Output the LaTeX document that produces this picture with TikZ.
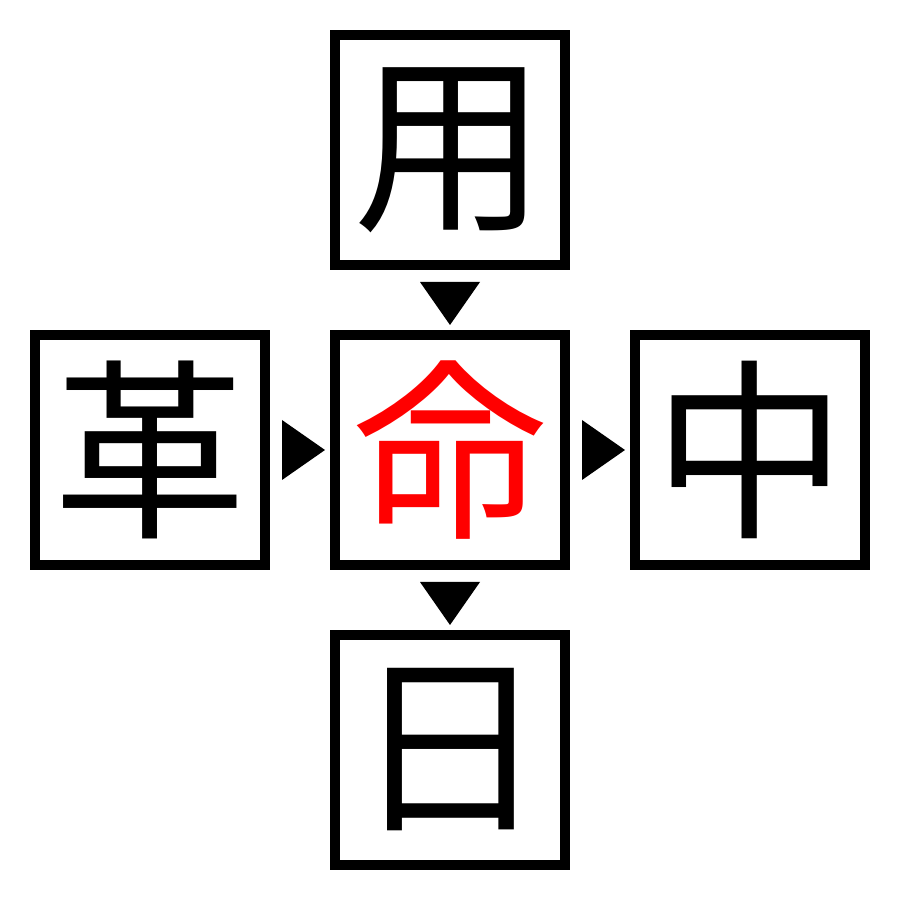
\documentclass[tikz,border=0pt]{standalone}
\usepackage{fontspec}
\newfontfamily\cjk{Noto Sans CJK JP}
\usetikzlibrary{calc}
\tikzset{
  cell/.style={draw, line width=1mm, minimum size=2.3cm, inner sep=0pt,
    font=\cjk\fontsize{55}{55}\selectfont},
}
\begin{document}
\begin{tikzpicture}
\useasboundingbox (0,0) rectangle (9,9);

\node[cell] (yong) at (4.5,7.5) {用};
\node[cell] (ge) at (1.5,4.5) {革};
\node[cell,text=red] (ming) at (4.5,4.5) {命};
\node[cell] (zhong) at (7.5,4.5) {中};
\node[cell] (ri) at (4.5,1.5) {日};

% down markers
\fill ($(yong.south)!.5!(ming.north)$) ++(-.3,.18) -- ++(.6,0) -- ++(-.3,-.43) -- cycle;
\fill ($(ming.south)!.5!(ri.north)$) ++(-.3,.18) -- ++(.6,0) -- ++(-.3,-.43) -- cycle;
% right markers
\fill ($(ge.east)!.5!(ming.west)$) ++(-.18,.3) -- ++(0,-.6) -- ++(.43,.3) -- cycle;
\fill ($(ming.east)!.5!(zhong.west)$) ++(-.18,.3) -- ++(0,-.6) -- ++(.43,.3) -- cycle;

\end{tikzpicture}
\end{document}
